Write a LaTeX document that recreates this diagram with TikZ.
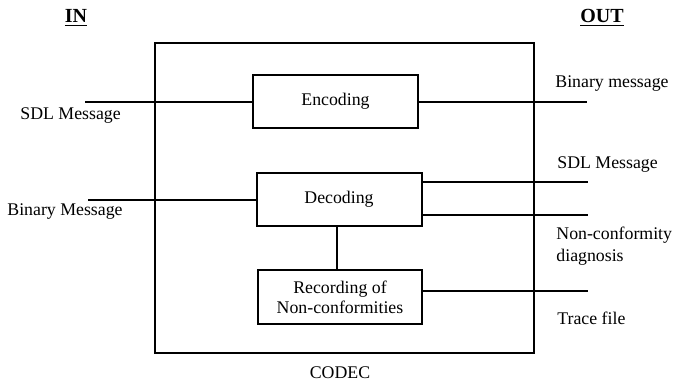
\documentclass[tikz,border=0pt]{standalone}
\usepackage{fontspec}
\setmainfont{Liberation Serif}
\begin{document}
\begin{tikzpicture}[x=0.5pt,y=-0.5pt,
  every node/.style={font=\fontsize{8.9}{11}\selectfont},
  blk/.style={draw,line width=1pt,minimum width=82.5pt,minimum height=26.5pt,inner sep=0pt,align=center},
  wire/.style={line width=1pt},
  lbl/.style={anchor=west,inner sep=0pt,align=left},
  ttl/.style={inner sep=0pt,font=\fontsize{10}{12}\selectfont\bfseries}]
\useasboundingbox (0,0) rectangle (675,382);
\draw[line width=1pt] (155,43) rectangle (534,353);
\node[blk] (enc) at (335.5,101.5) {Encoding};
\node[blk] (dec) at (339,199.5) {Decoding};
\node[blk,minimum width=82pt,minimum height=27pt,text depth=0pt] (rec) at (340,297) {Recording of\\[-1pt]Non-conformities};
\coordinate (inA) at (85,101.5);
\coordinate (inB) at (88,199.5);
\coordinate (outA) at (587,101.5);
\coordinate (outB) at (588,182);
\coordinate (outC) at (588,215);
\coordinate (outD) at (588,291);
\draw[wire] (inA) -- (enc.west);
\draw[wire] (enc.east) -- (outA);
\draw[wire] (inB) -- (dec.west);
\draw[wire] (dec.east |- outB) -- (outB);
\draw[wire] (dec.east |- outC) -- (outC);
\draw[wire] (rec.east |- outD) -- (outD);
\draw[wire] (dec.south -| 337,0) -- (rec.north -| 337,0);
\node[ttl] (in) at (76,18) {\underline{IN}};
\node[ttl] (out) at (602,18) {\underline{OUT}};
\node[lbl] (l1) at (20,116) {SDL Message};
\node[lbl] (l2) at (7,212) {Binary Message};
\node[lbl] (r1) at (555,84) {Binary message};
\node[lbl] (r2) at (557,165) {SDL Message};
\node[lbl] (r3) at (556,246) {Non-conformity\\diagnosis};
\node[lbl] (r4) at (557,318) {Trace file};
\node[inner sep=0pt] (codec) at (340,373) {CODEC};
\end{tikzpicture}
\end{document}
